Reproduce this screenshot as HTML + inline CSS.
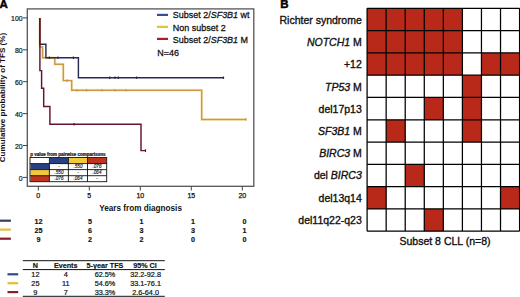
<!DOCTYPE html>
<html><head><meta charset="utf-8">
<style>
html,body{margin:0;padding:0;background:#fff;width:520px;height:297px;overflow:hidden}
svg{display:block;font-family:"Liberation Sans",sans-serif}
</style></head>
<body>
<svg width="520" height="297" viewBox="0 0 520 297">
<!-- Panel A -->
<text x="-0.6" y="8.4" font-size="11.5" font-weight="bold" fill="#000" stroke="#000" stroke-width="0.45">A</text>
<!-- plot box -->
<rect x="27.3" y="8.9" width="226.5" height="177.4" fill="none" stroke="#555" stroke-width="1.3"/>
<!-- y ticks -->
<g stroke="#444" stroke-width="1">
<line x1="23" y1="17.9" x2="27.5" y2="17.9"/>
<line x1="23" y1="49.8" x2="27.5" y2="49.8"/>
<line x1="23" y1="81.7" x2="27.5" y2="81.7"/>
<line x1="23" y1="113.6" x2="27.5" y2="113.6"/>
<line x1="23" y1="145.5" x2="27.5" y2="145.5"/>
<line x1="23" y1="177.4" x2="27.5" y2="177.4"/>
<line x1="38.3" y1="186.3" x2="38.3" y2="190.5"/>
<line x1="89.3" y1="186.3" x2="89.3" y2="190.5"/>
<line x1="140.3" y1="186.3" x2="140.3" y2="190.5"/>
<line x1="191.3" y1="186.3" x2="191.3" y2="190.5"/>
<line x1="242.3" y1="186.3" x2="242.3" y2="190.5"/>
</g>
<g font-size="7.5" fill="#111" stroke="#111" stroke-width="0.22" text-anchor="end">
<text transform="translate(22.6,21.2) scale(0.92,1)">100</text>
<text transform="translate(22.6,53.2) scale(0.92,1)">80</text>
<text transform="translate(22.6,85.1) scale(0.92,1)">60</text>
<text transform="translate(22.6,117) scale(0.92,1)">40</text>
<text transform="translate(22.6,148.9) scale(0.92,1)">20</text>
<text transform="translate(22.6,180.8) scale(0.92,1)">0</text>
</g>
<g font-size="7" fill="#111" stroke="#111" stroke-width="0.25" text-anchor="middle">
<text x="38.3" y="198">0</text>
<text x="89.3" y="198">5</text>
<text x="140.3" y="198">10</text>
<text x="191.3" y="198">15</text>
<text x="242.3" y="198">20</text>
</g>
<text transform="translate(140.6,210.7) scale(0.94,1)" font-size="8.7" font-weight="bold" fill="#111" text-anchor="middle">Years from diagnosis</text>
<text transform="translate(5.4,162.3) rotate(-90)" font-size="8.1" font-weight="bold" fill="#111">Cumulative probability of TFS (%)</text>

<!-- curves -->
<g fill="none" stroke-width="3" opacity="0.55">
<path stroke="#F6E3A0" d="M39.8 17.9 V47 H42.6 V57.7 H54.8 V64.3 H63.3 V80.6 H71.7 V90.3 H201.7 V119.4 H246"/>
</g>
<g fill="none" stroke-width="1.45">
<path stroke="#C9994A" d="M39.8 17.9 V47 H42.6 V57.7 H54.8 V64.3 H63.3 V80.6 H71.7 V90.3 H201.7 V119.4 H246"/>
<path stroke="#2A2A52" d="M39.7 17.9 V44.3 H45.9 V57.7 H78.4 V77.7 H223.5"/>
<path stroke="#651430" d="M39.9 17.9 V70.6 H41.6 V88.2 H43.7 V106.4 H49.9 V124.3 H141 V150.6 H145.5"/>
</g>
<!-- censor ticks -->
<g stroke-width="1.2" fill="none">
<path stroke="#2A2A52" d="M49.4 56.4 v2.6 M57.9 56.4 v2.6 M73.4 56.4 v2.6 M109.7 76.4 v2.6 M115 76.4 v2.6 M118.4 76.4 v2.6 M136.5 76.4 v2.6 M223.5 76.4 v2.6"/>
<path stroke="#C9994A" d="M67 79.3 v2.6 M77 89 v2.6 M86.5 89 v2.6 M102 89 v2.6 M115 89 v2.6 M126 89 v2.6 M246 118.1 v2.6"/>
<path stroke="#651430" d="M74.1 123 v2.6 M145.5 149.3 v2.6"/>
</g>

<!-- legend -->
<g stroke-width="2.2">
<line x1="157" y1="14.9" x2="168" y2="14.9" stroke="#34508F"/>
<line x1="157" y1="26.9" x2="168" y2="26.9" stroke="#E2C431"/>
<line x1="157" y1="38.9" x2="168" y2="38.9" stroke="#A81E2C"/>
</g>
<g font-size="9.6" fill="#111" stroke="#111" stroke-width="0.28">
<text transform="translate(172.8,17.8) scale(0.935,1)">Subset 2/<tspan font-style="italic">SF3B1</tspan> wt</text>
<text transform="translate(172.8,30.5) scale(0.935,1)">Non subset 2</text>
<text transform="translate(172.8,43.2) scale(0.935,1)">Subset 2/<tspan font-style="italic">SF3B1</tspan> M</text>
<text transform="translate(157.2,55.9) scale(0.935,1)">N=46</text>
</g>

<!-- p value table -->
<text x="30.2" y="155.7" font-size="4.5" font-weight="bold" fill="#111" stroke="#111" stroke-width="0.2">p value from pairwise comparisons</text>
<g>
<rect x="30.5" y="157.8" width="19" height="5.9" fill="#fff"/>
<rect x="49.5" y="157.8" width="19" height="5.9" fill="#263F85"/>
<rect x="68.5" y="157.8" width="19" height="5.9" fill="#F2C936"/>
<rect x="87.5" y="157.8" width="19" height="5.9" fill="#C0341F"/>
<rect x="30.5" y="163.7" width="19" height="6" fill="#263F85"/>
<rect x="30.5" y="169.7" width="19" height="6" fill="#F2C936"/>
<rect x="30.5" y="175.7" width="19" height="6" fill="#C0341F"/>
</g>
<g stroke="#111" stroke-width="0.9" fill="none">
<rect x="30" y="157.5" width="76.7" height="24.2"/>
<path d="M49.4 157.5 V181.7 M68.4 157.5 V181.7 M87.5 157.5 V181.7 M30 163.6 H106.7 M30 169.6 H106.7 M30 175.7 H106.7"/>
</g>
<g font-size="4.6" fill="#111" stroke="#111" stroke-width="0.12" text-anchor="middle" font-style="italic">
<text x="59" y="168">-</text>
<text x="78" y="168">.550</text>
<text x="97" y="168">.076</text>
<text x="59" y="174">.550</text>
<text x="78" y="174">-</text>
<text x="97" y="174">.064</text>
<text x="59" y="180">.076</text>
<text x="78" y="180">.064</text>
<text x="97" y="180">-</text>
</g>

<!-- numbers at risk -->
<g stroke-width="2.2">
<line x1="0" y1="220.7" x2="10.9" y2="220.7" stroke="#2F3F66"/>
<line x1="0" y1="229.6" x2="10.9" y2="229.6" stroke="#D9C23C"/>
<line x1="0" y1="238.7" x2="10.9" y2="238.7" stroke="#8E1A22"/>
</g>
<g font-size="7.2" font-weight="bold" fill="#111" stroke="#111" stroke-width="0.15" text-anchor="middle">
<text x="38.5" y="223.9">12</text><text x="90" y="223.9">5</text><text x="141.5" y="223.9">1</text><text x="193" y="223.9">1</text><text x="244.5" y="223.9">0</text>
<text x="38.5" y="232.8">25</text><text x="90" y="232.8">6</text><text x="141.5" y="232.8">3</text><text x="193" y="232.8">3</text><text x="244.5" y="232.8">1</text>
<text x="38.5" y="241.7">9</text><text x="90" y="241.7">2</text><text x="141.5" y="241.7">2</text><text x="193" y="241.7">0</text><text x="244.5" y="241.7">0</text>
</g>

<!-- summary table -->
<g stroke="#111" stroke-width="1">
<line x1="22.8" y1="260.7" x2="164.8" y2="260.7"/>
<line x1="22.8" y1="269.6" x2="164.8" y2="269.6"/>
<line x1="22.8" y1="296.3" x2="164.8" y2="296.3"/>
</g>
<g stroke-width="2.2">
<line x1="7.5" y1="274.3" x2="18.2" y2="274.3" stroke="#2E4A85"/>
<line x1="7.5" y1="283.2" x2="18.2" y2="283.2" stroke="#E0C030"/>
<line x1="7.5" y1="292.1" x2="18.2" y2="292.1" stroke="#8A2020"/>
</g>
<g font-size="7.2" font-weight="bold" fill="#111" stroke="#111" stroke-width="0.15" text-anchor="middle">
<text x="35.4" y="268.1">N</text>
<text x="65.7" y="268.1">Events</text>
<text x="105" y="268.1">5-year TFS</text>
<text x="145" y="268.1">95% CI</text>
</g>
<g font-size="7.3" fill="#111" stroke="#111" stroke-width="0.2" text-anchor="middle">
<text x="35.4" y="277.3">12</text><text x="65.7" y="277.3">4</text><text x="105" y="277.3">62.5%</text><text x="145.6" y="277.3">32.2-92.8</text>
<text x="35.4" y="286.1">25</text><text x="65.7" y="286.1">11</text><text x="105" y="286.1">54.6%</text><text x="145.6" y="286.1">33.1-76.1</text>
<text x="35.4" y="294.8">9</text><text x="65.7" y="294.8">7</text><text x="105" y="294.8">33.3%</text><text x="145.6" y="294.8">2.6-64.0</text>
</g>

<!-- Panel B -->
<text x="280.2" y="8.4" font-size="11.5" font-weight="bold" fill="#000" stroke="#000" stroke-width="0.45">B</text>
<g font-size="10.5" fill="#111" stroke="#111" stroke-width="0.35" text-anchor="end">
<text x="361.8" y="24">Richter syndrome</text>
<text x="361.8" y="46.2"><tspan font-style="italic">NOTCH1</tspan> M</text>
<text x="361.8" y="68.4">+12</text>
<text x="361.8" y="90.6"><tspan font-style="italic">TP53</tspan> M</text>
<text x="361.8" y="112.8">del17p13</text>
<text x="361.8" y="135"><tspan font-style="italic">SF3B1</tspan> M</text>
<text x="361.8" y="157.2"><tspan font-style="italic">BIRC3</tspan> M</text>
<text x="361.8" y="179.4">del <tspan font-style="italic">BIRC3</tspan></text>
<text x="361.8" y="201.6">del13q14</text>
<text x="361.8" y="223.8">del11q22-q23</text>
</g>
<text x="445" y="245" font-size="10.5" fill="#111" stroke="#111" stroke-width="0.35" text-anchor="middle">Subset 8 CLL (n=8)</text>
<g fill="#B8291A"><rect x="367.10" y="8.35" width="19.06" height="22.29"/><rect x="386.16" y="8.35" width="19.06" height="22.29"/><rect x="405.22" y="8.35" width="19.06" height="22.29"/><rect x="424.28" y="8.35" width="19.06" height="22.29"/><rect x="443.34" y="8.35" width="19.06" height="22.29"/><rect x="367.10" y="30.63" width="19.06" height="22.29"/><rect x="386.16" y="30.63" width="19.06" height="22.29"/><rect x="405.22" y="30.63" width="19.06" height="22.29"/><rect x="424.28" y="30.63" width="19.06" height="22.29"/><rect x="443.34" y="30.63" width="19.06" height="22.29"/><rect x="367.10" y="52.92" width="19.06" height="22.29"/><rect x="386.16" y="52.92" width="19.06" height="22.29"/><rect x="405.22" y="52.92" width="19.06" height="22.29"/><rect x="424.28" y="52.92" width="19.06" height="22.29"/><rect x="443.34" y="52.92" width="19.06" height="22.29"/><rect x="481.46" y="52.92" width="19.06" height="22.29"/><rect x="500.52" y="52.92" width="19.06" height="22.29"/><rect x="462.40" y="75.20" width="19.06" height="22.29"/><rect x="424.28" y="97.49" width="19.06" height="22.29"/><rect x="462.40" y="97.49" width="19.06" height="22.29"/><rect x="386.16" y="119.77" width="19.06" height="22.29"/><rect x="462.40" y="119.77" width="19.06" height="22.29"/><rect x="405.22" y="164.34" width="19.06" height="22.29"/><rect x="367.10" y="186.63" width="19.06" height="22.29"/><rect x="500.52" y="186.63" width="19.06" height="22.29"/><rect x="424.28" y="208.91" width="19.06" height="22.29"/></g>
<path stroke="#000" stroke-width="1.25" fill="none" d="M367.1 8.35H519.58M367.1 30.63H519.58M367.1 52.92H519.58M367.1 75.20H519.58M367.1 97.49H519.58M367.1 119.77H519.58M367.1 142.06H519.58M367.1 164.34H519.58M367.1 186.63H519.58M367.1 208.91H519.58M367.1 231.20H519.58M367.10 8.35V231.20M386.16 8.35V231.20M405.22 8.35V231.20M424.28 8.35V231.20M443.34 8.35V231.20M462.40 8.35V231.20M481.46 8.35V231.20M500.52 8.35V231.20M519.58 8.35V231.20"/>
</svg>
</body></html>
